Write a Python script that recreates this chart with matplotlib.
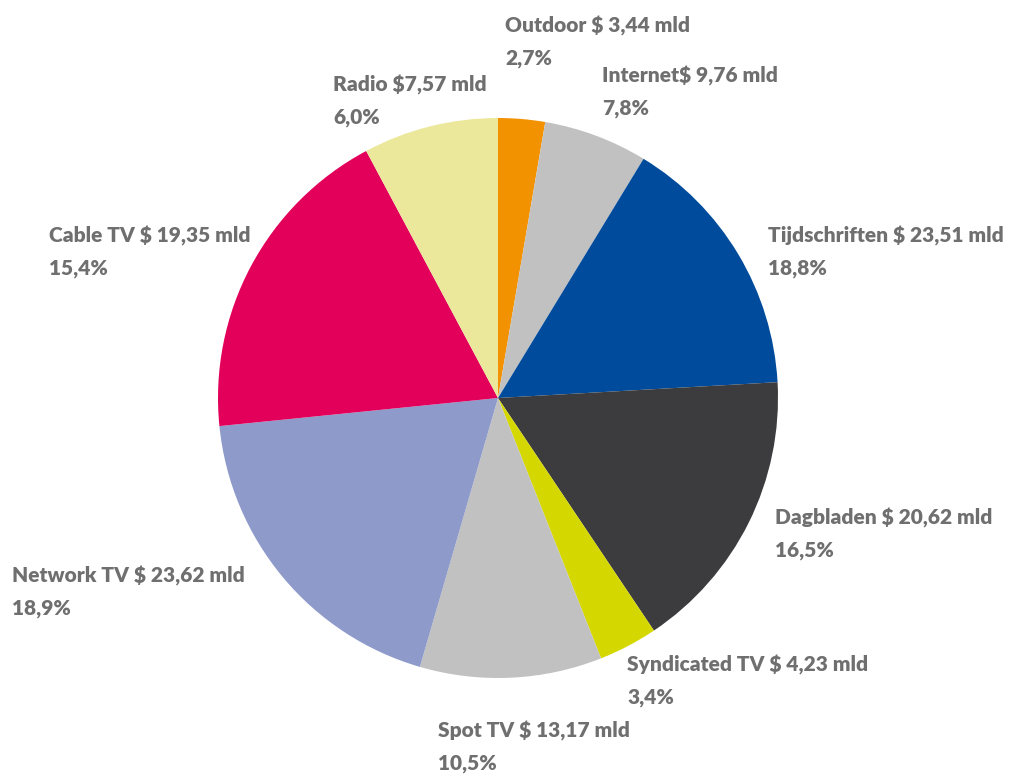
import matplotlib.pyplot as plt
import numpy as np

# Mediabestedingen (slices as drawn, clockwise from top)
sizes = [2.7, 6.0, 15.4, 16.5, 3.4, 10.5, 18.9, 18.8, 7.8]
colors = ["#F39200", "#C1C1C1", "#004B9B", "#3C3C3E", "#D5D800",
          "#C1C1C1", "#8E9ACA", "#E2005A", "#EBE89B"]

labels = ["Outdoor $ 3,44 mld", "Internet$ 9,76 mld", "Tijdschriften $ 23,51 mld",
          "Dagbladen $ 20,62 mld", "Syndicated TV $ 4,23 mld", "Spot TV $ 13,17 mld",
          "Network TV $ 23,62 mld", "Cable TV $ 19,35 mld", "Radio $7,57 mld"]
pcts = ["2,7%", "7,8%", "18,8%", "16,5%", "3,4%", "10,5%", "18,9%", "15,4%", "6,0%"]

# label anchor (left x, middle y) in pixels of the 1010x774 picture
lab_x = [505, 602, 768, 775, 627, 438, 12, 49, 333]
lab_y = [42, 92, 252, 534, 681, 747, 592, 252, 101]

W, H = 1010, 774
cx, cy, r = 498, 398, 280

fig = plt.figure(figsize=(W/100, H/100), dpi=100)
ax = fig.add_axes([(cx - r)/W, (H - cy - r)/H, 2*r/W, 2*r/H])
ax.pie(sizes, colors=colors, startangle=90, counterclock=False, radius=1,
       wedgeprops=dict(linewidth=0))
ax.set_xlim(-1, 1)
ax.set_ylim(-1, 1)
ax.set_aspect("equal")
ax.axis("off")

for lab, p, x, y in zip(labels, pcts, lab_x, lab_y):
    fig.text(x/W, 1 - y/H, lab + "\n" + p, ha="left", va="center",
             fontsize=15, fontweight="heavy", color="#6F6F6F",
             family=["Lato", "DejaVu Sans"], linespacing=1.75)

fig.savefig("out.png", dpi=100)
